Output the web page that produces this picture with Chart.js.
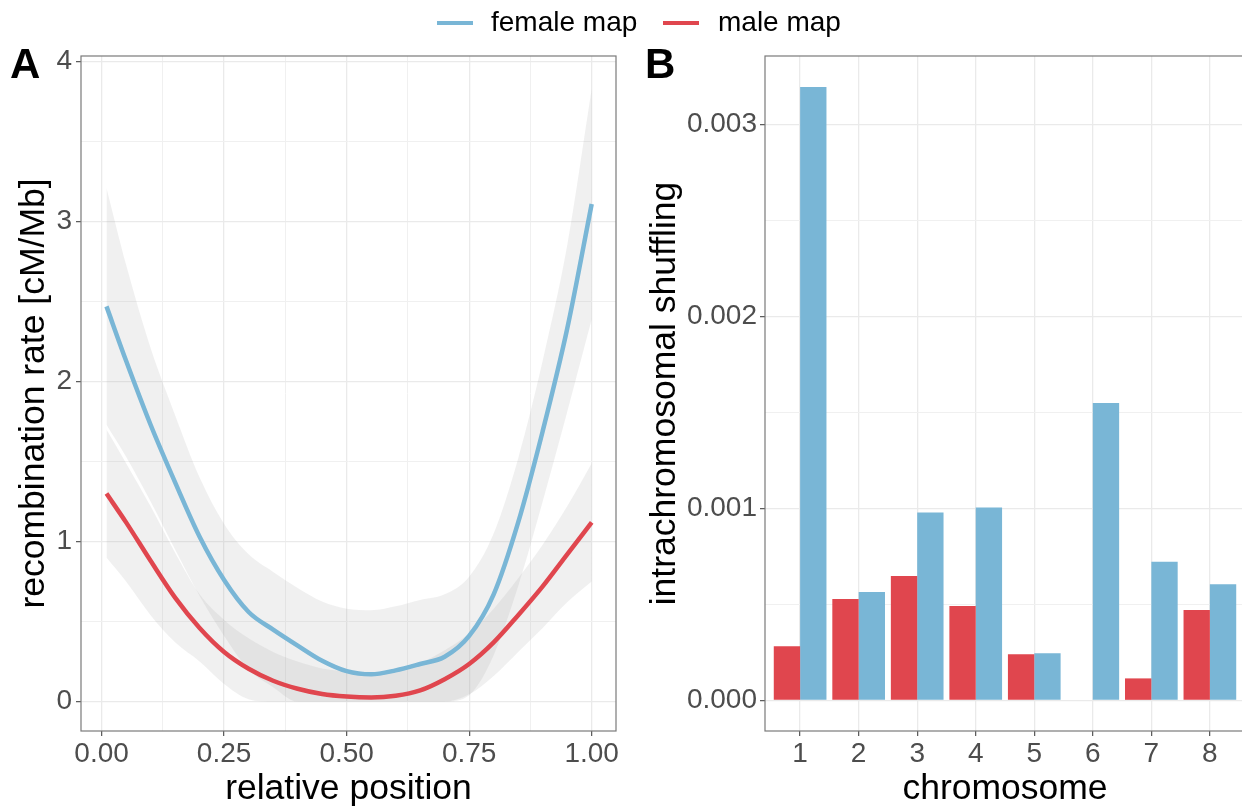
<!DOCTYPE html>
<html>
<head>
<meta charset="utf-8">
<script src="https://cdn.jsdelivr.net/npm/chart.js@4.4.1/dist/chart.umd.min.js"></script>
<style>
html,body{margin:0;padding:0;width:1242px;height:808px;overflow:hidden;background:#fff;font-family:'Liberation Sans',Arial,sans-serif;}
#wrapA{position:absolute;left:0;top:0;width:640px;height:808px;}
#wrapB{position:absolute;left:640px;top:0;width:606px;height:808px;}
.txt{position:absolute;white-space:nowrap;color:#000;font-family:'Liberation Sans',Arial,sans-serif;}
.key{position:absolute;height:4px;width:36px;}
</style>
</head>
<body>
<div id="wrapA"><canvas id="chartA" width="640" height="808"></canvas></div>
<div id="wrapB"><canvas id="chartB" width="606" height="808"></canvas></div>

<div class="key" style="left:437px;top:20.5px;background:#79B6D6"></div>
<div class="txt" style="left:491px;top:7.8px;font-size:28px;line-height:28px">female map</div>
<div class="key" style="left:663px;top:20.5px;background:#E0464E"></div>
<div class="txt" style="left:718px;top:7.8px;font-size:28px;line-height:28px">male map</div>

<div class="txt" style="left:10px;top:42.5px;font-size:42px;line-height:42px;font-weight:bold">A</div>
<div class="txt" style="left:645px;top:42.5px;font-size:42px;line-height:42px;font-weight:bold">B</div>

<script>
// ---------- Panel A data ----------
const positions   = [0.01,0.05,0.10,0.15,0.20,0.25,0.30,0.35,0.40,0.45,0.50,0.55,0.60,0.65,0.70,0.75,0.80,0.85,0.90,0.95,1.00];
const femaleRate  = [2.47,2.13,1.73,1.37,1.03,0.76,0.56,0.45,0.35,0.255,0.19,0.17,0.195,0.235,0.28,0.41,0.67,1.12,1.69,2.33,3.11];
const femaleUpper = [3.21,2.73,2.21,1.79,1.40,1.11,0.92,0.81,0.71,0.625,0.58,0.57,0.595,0.635,0.67,0.78,1.05,1.52,2.13,2.85,3.83];
const femaleLower = [1.73,1.53,1.25,0.95,0.66,0.41,0.20,0.09,0,0,0,0,0,0,0,0.04,0.29,0.72,1.25,1.81,2.39];
const maleRate    = [1.30,1.12,0.88,0.65,0.46,0.31,0.205,0.13,0.08,0.047,0.031,0.025,0.036,0.07,0.14,0.235,0.37,0.54,0.72,0.92,1.12];
const maleUpper   = [1.70,1.49,1.22,0.93,0.67,0.51,0.395,0.31,0.25,0.207,0.19,0.185,0.196,0.24,0.32,0.425,0.58,0.77,0.98,1.22,1.49];
const maleLower   = [0.90,0.75,0.54,0.37,0.25,0.11,0.015,0,0,0,0,0,0,0,0,0.045,0.16,0.31,0.46,0.62,0.75];
const ticksAx     = [0,0.125,0.25,0.375,0.5,0.625,0.75,0.875,1.0];
const ticksAy     = [0,0.5,1,1.5,2,2.5,3,3.5,4];

// ---------- Panel B data ----------
const chromosomes     = [1,2,3,4,5,6,7,8];
const maleShuffling   = [0.000283,0.000529,0.000649,0.000492,0.000241,0,0.000115,0.000471];
const femaleShuffling = [0.003196,0.000565,0.000979,0.001005,0.000246,0.00155,0.000723,0.000605];
const ticksBy         = [0,0.0005,0.001,0.0015,0.002,0.0025,0.003];

const BLUE = '#79B6D6', RED = '#E0464E';
const BAND = 'rgba(153,153,153,0.15)';
const FONT = "'Liberation Sans', Arial, sans-serif";
const GRID_MAJOR = '#EAEAEA', GRID_MINOR = '#F0F0F0';

const pts = (ys) => positions.map((x, i) => ({x, y: ys[i]}));
const isMult = (v, m) => Math.abs(v / m - Math.round(v / m)) < 1e-6;

const panelBorder = {
  id: 'panelBorder',
  afterDatasetsDraw(chart) {
    const {ctx, chartArea: {left, top, right, bottom}} = chart;
    ctx.save();
    ctx.strokeStyle = '#7a7a7a';
    ctx.lineWidth = 1.2;
    ctx.strokeRect(left, top, right - left, bottom - top);
    ctx.restore();
  }
};

function gridOpts(isMajor) {
  return {
    drawOnChartArea: true,
    drawTicks: true,
    tickLength: 5,
    color: c => (c.tick && isMajor(c.tick.value)) ? GRID_MAJOR : GRID_MINOR,
    lineWidth: c => (c.tick && isMajor(c.tick.value)) ? 1.3 : 1,
    tickColor: c => (c.tick && isMajor(c.tick.value)) ? '#555' : 'rgba(0,0,0,0)',
    tickWidth: 1.2
  };
}

const tickFont = {family: FONT, size: 28, lineHeight: 1.2};
const titleFont = {family: FONT, size: 35.5, lineHeight: 1};

const lineDs = (label, ys, color) => ({
  label, data: pts(ys), borderColor: color, borderWidth: 4.5, pointRadius: 0,
  cubicInterpolationMode: 'monotone', fill: false, order: 0
});
const bandDs = (label, ys, fill) => ({
  label, data: pts(ys), borderColor: 'rgba(0,0,0,0)', borderWidth: 0, pointRadius: 0,
  backgroundColor: BAND, cubicInterpolationMode: 'monotone', fill, order: 2
});

new Chart(document.getElementById('chartA'), {
  type: 'line',
  data: {
    datasets: [
      lineDs('female map', femaleRate, BLUE),
      lineDs('male map', maleRate, RED),
      bandDs('female upper', femaleUpper, '+1'),
      bandDs('female lower', femaleLower, false),
      bandDs('male upper', maleUpper, '+1'),
      bandDs('male lower', maleLower, false)
    ]
  },
  options: {
    responsive: false, animation: false, events: [],
    layout: {padding: {left: 0, top: 56, right: 24, bottom: 0}},
    plugins: {legend: {display: false}, tooltip: {enabled: false}},
    scales: {
      x: {
        type: 'linear', min: -0.042, max: 1.0496, bounds: 'data',
        afterBuildTicks: s => { s.ticks = ticksAx.map(v => ({value: v})); },
        afterFit: s => { s.height = 77; },
        grid: gridOpts(v => isMult(v, 0.25)),
        border: {display: false},
        ticks: {autoSkip: false, maxRotation: 0, padding: 1, color: '#4D4D4D', font: tickFont,
          callback: v => isMult(v, 0.25) ? v.toFixed(2) : ''},
        title: {display: true, text: 'relative position', color: '#000', font: titleFont, padding: {top: 0, bottom: 1}}
      },
      y: {
        type: 'linear', min: -0.184, max: 4.035, bounds: 'data',
        afterBuildTicks: s => { s.ticks = ticksAy.map(v => ({value: v})); },
        afterFit: s => { s.width = 81; },
        grid: gridOpts(v => isMult(v, 1)),
        border: {display: false},
        ticks: {autoSkip: false, padding: 4, color: '#4D4D4D', font: tickFont,
          callback: v => isMult(v, 1) ? String(v) : ''},
        title: {display: true, text: 'recombination rate [cM/Mb]', color: '#000', font: titleFont, padding: {top: 16, bottom: 0}}
      }
    }
  },
  plugins: [panelBorder]
});

new Chart(document.getElementById('chartB'), {
  type: 'bar',
  data: {
    datasets: [
      {label: 'male map', data: chromosomes.map((c, i) => ({x: c, y: maleShuffling[i]})),
       backgroundColor: RED, borderWidth: 0, barPercentage: 1, categoryPercentage: 0.9},
      {label: 'female map', data: chromosomes.map((c, i) => ({x: c, y: femaleShuffling[i]})),
       backgroundColor: BLUE, borderWidth: 0, barPercentage: 1, categoryPercentage: 0.9}
    ]
  },
  options: {
    responsive: false, animation: false, events: [],
    layout: {padding: {left: 0, top: 56, right: 1, bottom: 0}},
    plugins: {legend: {display: false}, tooltip: {enabled: false}},
    scales: {
      x: {
        type: 'linear', min: 0.4, max: 8.6, bounds: 'data', offset: false,
        afterBuildTicks: s => { s.ticks = chromosomes.map(v => ({value: v})); },
        afterFit: s => { s.height = 77; },
        grid: Object.assign(gridOpts(() => true), {offset: false}),
        border: {display: false},
        ticks: {autoSkip: false, maxRotation: 0, padding: 1, color: '#4D4D4D', font: tickFont,
          callback: v => String(v)},
        title: {display: true, text: 'chromosome', color: '#000', font: titleFont, padding: {top: 0, bottom: 1}}
      },
      y: {
        type: 'linear', min: -0.000159, max: 0.003357, bounds: 'data',
        afterBuildTicks: s => { s.ticks = ticksBy.map(v => ({value: v})); },
        afterFit: s => { s.width = 125; },
        grid: gridOpts(v => isMult(v, 0.001)),
        border: {display: false},
        ticks: {autoSkip: false, padding: 3, color: '#4D4D4D', font: tickFont,
          callback: v => isMult(v, 0.001) ? v.toFixed(3) : ''},
        title: {display: true, text: 'intrachromosomal shuffling', color: '#000', font: titleFont, padding: {top: 7, bottom: 0}}
      }
    }
  },
  plugins: [panelBorder]
});
</script>
</body>
</html>
